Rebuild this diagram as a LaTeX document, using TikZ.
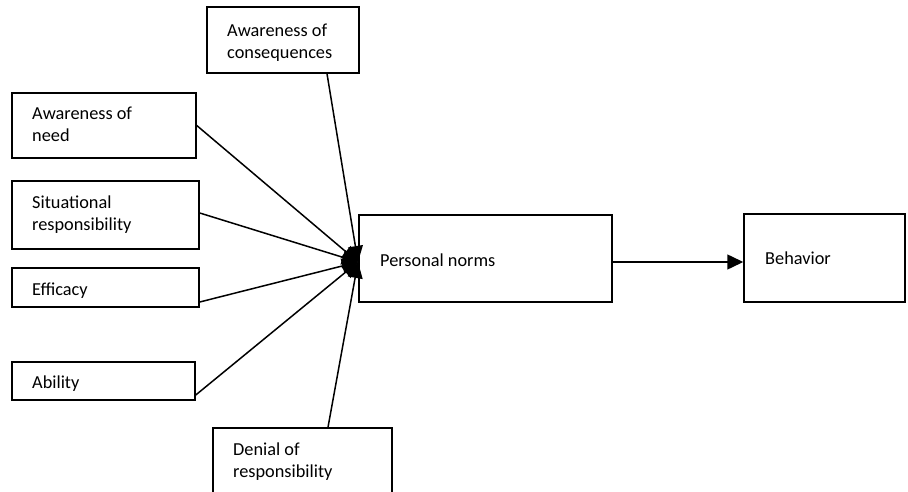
\documentclass[tikz,border=0pt]{standalone}
\usepackage{fontspec}
\setmainfont{Carlito}
\usetikzlibrary{arrows.meta}

\tikzset{
  box/.style={draw=black, line width=1.5pt, rectangle, inner sep=0pt},
  txt/.style={anchor=base west, inner sep=0pt, align=left,
    font=\fontsize{18.3pt}{21.7pt}\selectfont},
  link/.style={line width=1.5pt, -{Triangle[length=16pt, width=15pt]}},
  flow/.style={line width=1.5pt, -{Triangle[length=16pt, width=15pt]}}
}

\begin{document}
\begin{tikzpicture}[x=1pt, y=-1pt]
  \useasboundingbox (0,0) rectangle (908,492);
  \clip (0,0) rectangle (908,492);

  % boxes
  \node[box, minimum width=152pt, minimum height=66pt] (cons) at (283,40) {};
  \node[box, minimum width=184pt, minimum height=65pt] (need) at (104,125.5) {};
  \node[box, minimum width=187pt, minimum height=68pt] (sit)  at (105.5,215) {};
  \node[box, minimum width=187pt, minimum height=39pt] (eff)  at (105.5,287.5) {};
  \node[box, minimum width=183pt, minimum height=38pt] (abil) at (103.5,381) {};
  \node[box, minimum width=179pt, minimum height=84pt] (deny) at (302.5,470) {};
  \node[box, minimum width=253pt, minimum height=87pt] (pn)   at (485.5,258.5) {};
  \node[box, minimum width=161pt, minimum height=88pt] (beh)  at (824.5,258) {};

  % labels (base anchor sits on the last line of each label)
  \node[txt] at (227,58.2)  {Awareness of\\consequences};
  \node[txt] at (32,141.2)  {Awareness of\\need};
  \node[txt] at (32,230.2)  {Situational\\responsibility};
  \node[txt] at (32,295)    {Efficacy};
  \node[txt] at (32,388)    {Ability};
  \node[txt] at (233,477)   {Denial of\\responsibility};
  \node[txt] at (380,266)   {Personal norms};
  \node[txt] at (765,264)   {Behavior};

  % converging arrows into personal norms
  \coordinate (hub) at (358,262);
  \draw[link] ([xshift=44pt]cons.south) -- (hub);
  \draw[link] (need.east) -- (hub);
  \draw[link] ([yshift=2pt]sit.east) -- (hub);
  \draw[link] ([yshift=-14.5pt]eff.east) -- (hub);
  \draw[link] ([yshift=-14pt]abil.east) -- (hub);
  \draw[link] ([xshift=25.5pt]deny.north) -- (hub);

  % personal norms to behavior
  \draw[flow] (pn.east |- 0,262) -- (beh.west |- 0,262);
\end{tikzpicture}
\end{document}
